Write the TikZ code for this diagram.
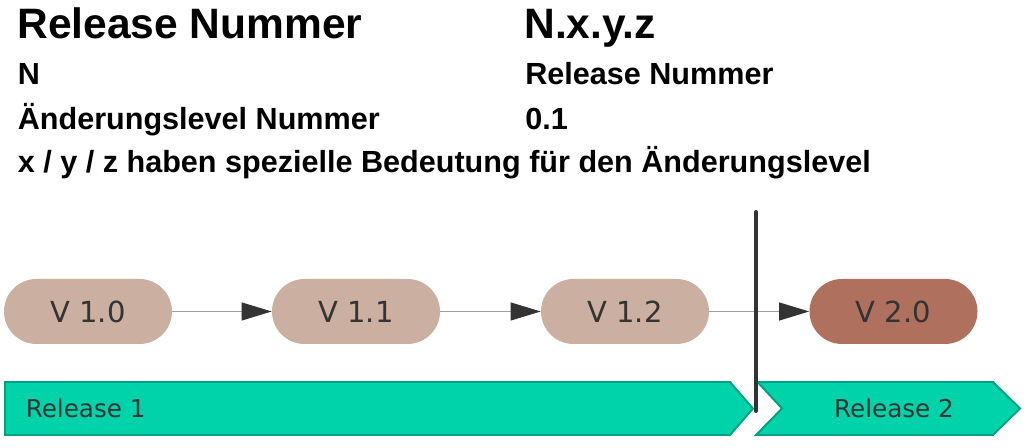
\documentclass[tikz,border=0pt]{standalone}
\usepackage{fontspec}
\setmainfont{Liberation Sans}
\newfontfamily\versfont{DejaVu Sans}
\usetikzlibrary{arrows.meta,positioning,shapes}
\definecolor{vold}{HTML}{CBAFA0}
\definecolor{vnew}{HTML}{B0705E}
\definecolor{darktext}{HTML}{333333}
\definecolor{relfill}{HTML}{00D2AA}
\definecolor{reldraw}{HTML}{00A080}
\definecolor{linegray}{HTML}{A0A0A0}

\begin{document}
\begin{tikzpicture}[auto, version node/.style={rectangle,rounded corners=0.65cm,minimum width=3.36cm,minimum height=1.3cm,inner sep=0pt,text=darktext,font=\versfont\fontsize{16.5}{18}\selectfont},title node/.style={anchor=base west,inner sep=0pt,font=\bfseries\fontsize{17.4}{20}\selectfont},release/.style={fill=relfill,draw=reldraw,line width=1.1pt},release label/.style={inner sep=0pt,text=darktext,font=\versfont\fontsize{14}{16}\selectfont},every edge/.style={draw=linegray,line width=0.6pt,-{Triangle[length=0.6cm,width=0.36cm,color=darktext]}}]%
\useasboundingbox (0,0) rectangle (20.54,8.96);
\begin{scope}
\node[title node,font=\bfseries\fontsize{24.2}{28}\selectfont] (t1) at (0.34,8.18) {Release Nummer};
\node[title node,font=\bfseries\fontsize{24.2}{28}\selectfont] (t2) at (10.48,8.18) {N.x.y.z};
\node[title node] (t3) at (0.35,7.26) {N};
\node[title node] (t4) at (10.5,7.26) {Release Nummer};
\node[title node] (t5) at (0.35,6.36) {Änderungslevel Nummer};
\node[title node] (t6) at (10.5,6.36) {0.1};
\node[title node] (t7) at (0.35,5.5) {x / y / z haben spezielle Bedeutung für den Änderungslevel};
\end{scope}
\begin{scope}
\draw[release] (0.1,1.32) -- (14.6,1.32) -- (15.06,0.79) -- (14.6,0.26) -- (0.1,0.26) -- cycle;
\draw[release] (15.15,1.32) -- (19.86,1.32) -- (20.4,0.79) -- (19.86,0.26) -- (15.12,0.26) -- (15.64,0.79) -- cycle;
\node[release label,anchor=west] (r1) at (0.51,0.79) {Release 1};
\node[release label] (r2) at (17.88,0.79) {Release 2};
\end{scope}
\begin{scope}
\node[version node,fill=vold] (v10) at (1.76,2.73) {V 1.0};
\node[version node,fill=vold] (v11) at (7.12,2.73) {V 1.1};
\node[version node,fill=vold] (v12) at (12.5,2.73) {V 1.2};
\node[version node,fill=vnew] (v20) at (17.87,2.73) {V 2.0};
\end{scope}
\begin{scope}
\draw  (v10) edge (v11);
\draw  (v11) edge (v12);
\draw  (v12) edge (v20);
\end{scope}
\coordinate (cut top) at (15.12,4.72);
\coordinate (cut bottom) at (15.12,0.74);
\draw[darktext,line width=2.3pt,line cap=round] (cut top) -- (cut bottom);
\end{tikzpicture}
\end{document}
